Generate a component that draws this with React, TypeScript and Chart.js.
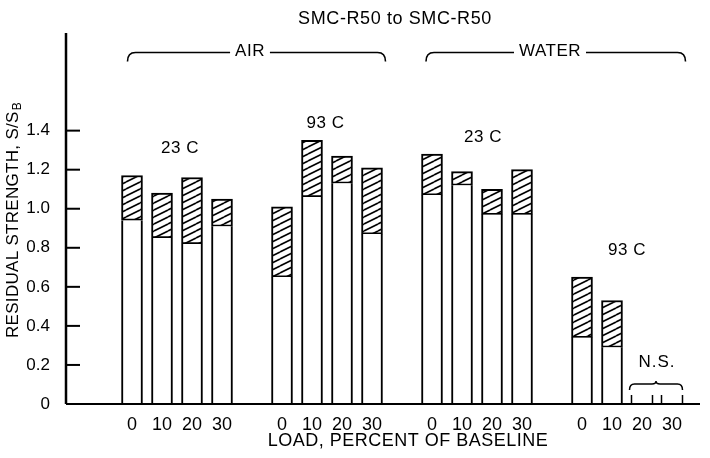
import React, { useEffect, useRef } from "react";
import { Chart, registerables } from "chart.js";

Chart.register(...registerables);

const chartTitle = "SMC-R50 to SMC-R50";
const xAxisTitle = "LOAD, PERCENT OF BASELINE";
const yAxisTitle = "RESIDUAL STRENGTH, S/S";
const yAxisTitleSub = "B";
const environments = ["AIR", "WATER"];
const groupTemps = ["23 C", "93 C", "23 C", "93 C"];
const loadLabels = ["0", "10", "20", "30"];
const yTickValues = [0, 0.2, 0.4, 0.6, 0.8, 1.0, 1.2, 1.4];
const notSignificantLabel = "N.S.";

// lower (open) part of bar and top of hatched part
const air23Lower = [0.94, 0.85, 0.82, 0.91];
const air23Upper = [1.17, 1.08, 1.16, 1.05];
const air93Lower = [0.65, 1.06, 1.13, 0.87];
const air93Upper = [1.01, 1.35, 1.27, 1.21];
const water23Lower = [1.07, 1.12, 0.97, 0.97];
const water23Upper = [1.28, 1.19, 1.1, 1.2];
const water93Lower: (number | null)[] = [0.34, 0.29, null, null];
const water93Upper: (number | null)[] = [0.65, 0.53, null, null];

const lowerByGroup = [air23Lower, air93Lower, water23Lower, water93Lower];
const upperByGroup = [air23Upper, air93Upper, water23Upper, water93Upper];

const SLOTS = 5; // 4 loads + one spacer per group
const FONT = "'Liberation Sans', Arial, sans-serif";
const BAR_W = 21;

function makeHatch(): CanvasPattern | string {
  const c = document.createElement("canvas");
  c.width = 14;
  c.height = 7;
  const g = c.getContext("2d");
  if (!g) return "#fff";
  g.fillStyle = "#fff";
  g.fillRect(0, 0, 14, 7);
  g.strokeStyle = "#000";
  g.lineWidth = 1.6;
  for (let k = -1; k <= 1; k++) {
    g.beginPath();
    g.moveTo(0, 7 * k + 7);
    g.lineTo(14, 7 * k);
    g.stroke();
  }
  return g.createPattern(c, "repeat") || "#fff";
}

function setSpacing(ctx: any, v: string) {
  if ("letterSpacing" in ctx) ctx.letterSpacing = v;
}

const annotations = {
  id: "annotations",
  afterDraw(chart: any) {
    const { ctx, chartArea: a, scales } = chart;
    const x = scales.x;
    const y = scales.y;
    ctx.save();
    ctx.strokeStyle = "#000";
    ctx.fillStyle = "#000";
    ctx.lineCap = "butt";

    // axes
    ctx.lineWidth = 2.5;
    ctx.beginPath();
    ctx.moveTo(a.left, a.top);
    ctx.lineTo(a.left, a.bottom);
    ctx.stroke();
    ctx.lineWidth = 2;
    ctx.beginPath();
    ctx.moveTo(a.left, a.bottom);
    ctx.lineTo(a.right, a.bottom);
    ctx.stroke();

    // y tick marks (inside)
    yTickValues.forEach((v) => {
      if (v === 0) return;
      const py = y.getPixelForValue(v);
      ctx.beginPath();
      ctx.moveTo(a.left, py);
      ctx.lineTo(a.left + 14, py);
      ctx.stroke();
    });

    // title
    ctx.textAlign = "center";
    ctx.textBaseline = "alphabetic";
    ctx.font = `18px ${FONT}`;
    setSpacing(ctx, "0.6px");
    ctx.fillText(chartTitle, 395, 24);

    // x axis title
    ctx.font = `18px ${FONT}`;
    setSpacing(ctx, "0.5px");
    ctx.fillText(xAxisTitle, x.getPixelForValue(9.2), 446);

    // y axis title (rotated)
    ctx.save();
    ctx.translate(18, 220);
    ctx.rotate(-Math.PI / 2);
    ctx.font = `17px ${FONT}`;
    setSpacing(ctx, "0.3px");
    const mainW = ctx.measureText(yAxisTitle).width;
    ctx.font = `12px ${FONT}`;
    const subW = ctx.measureText(yAxisTitleSub).width;
    const total = mainW + subW + 1;
    ctx.textAlign = "left";
    ctx.font = `17px ${FONT}`;
    ctx.fillText(yAxisTitle, -total / 2, 0);
    ctx.font = `12px ${FONT}`;
    ctx.fillText(yAxisTitleSub, -total / 2 + mainW + 1, 3);
    ctx.restore();

    // environment braces
    const braceY = y.getPixelForValue(1.8);
    const braceSpans = [
      [-0.15, 8.45],
      [9.8, 18.45],
    ];
    ctx.font = `17px ${FONT}`;
    setSpacing(ctx, "0.5px");
    ctx.textAlign = "center";
    ctx.textBaseline = "middle";
    ctx.lineWidth = 1.6;
    environments.forEach((env, i) => {
      const x1 = x.getPixelForValue(braceSpans[i][0]);
      const x2 = x.getPixelForValue(braceSpans[i][1]);
      const cx = x.getPixelForValue(i * 2 * SLOTS + 4) - 2;
      const w = ctx.measureText(env).width;
      const r = 8;
      const drop = 9;
      ctx.beginPath();
      ctx.moveTo(x1, braceY + drop);
      ctx.quadraticCurveTo(x1, braceY, x1 + r, braceY);
      ctx.lineTo(cx - w / 2 - 5, braceY);
      ctx.moveTo(cx + w / 2 + 5, braceY);
      ctx.lineTo(x2 - r, braceY);
      ctx.quadraticCurveTo(x2, braceY, x2, braceY + drop);
      ctx.stroke();
      ctx.fillText(env, cx, braceY - 1);
    });

    // temperature labels
    const tempY = [1.31, 1.44, 1.365, 0.785];
    const tempDx = [0.1, -0.05, 0.2, 0];
    ctx.font = `17px ${FONT}`;
    groupTemps.forEach((t, g) => {
      const px = x.getPixelForValue(g * SLOTS + 1.5 + tempDx[g]);
      ctx.fillText(t, px, y.getPixelForValue(tempY[g]));
    });

    // N.S. brace for missing bars
    const missing: number[] = [];
    upperByGroup.forEach((arr, g) =>
      arr.forEach((v, j) => {
        if (v === null) missing.push(g * SLOTS + j);
      })
    );
    if (missing.length) {
      ctx.lineWidth = 1.5;
      const edges: number[] = [];
      missing.forEach((i) => {
        const c = x.getPixelForValue(i);
        edges.push(c - BAR_W / 2, c + BAR_W / 2);
      });
      edges.forEach((ex) => {
        ctx.beginPath();
        ctx.moveTo(ex, a.bottom);
        ctx.lineTo(ex, a.bottom - 9);
        ctx.stroke();
      });
      const x1 = edges[0] - 2;
      const x2 = edges[edges.length - 1];
      const cx = (x1 + x2) / 2;
      const by = a.bottom - 20;
      const r = 5;
      ctx.beginPath();
      ctx.moveTo(x1, by + 6);
      ctx.quadraticCurveTo(x1, by, x1 + r, by);
      ctx.lineTo(cx - 4, by);
      ctx.quadraticCurveTo(cx, by, cx, by - 3);
      ctx.quadraticCurveTo(cx, by, cx + 4, by);
      ctx.lineTo(x2 - r, by);
      ctx.quadraticCurveTo(x2, by, x2, by + 6);
      ctx.stroke();
      ctx.font = `17px ${FONT}`;
      setSpacing(ctx, "1px");
      ctx.fillText(notSignificantLabel, cx + 1, a.bottom - 42);
    }

    setSpacing(ctx, "0px");
    ctx.restore();
  },
};

export default function App() {
  const ref = useRef<HTMLCanvasElement | null>(null);

  useEffect(() => {
    const canvas = ref.current;
    if (!canvas) return;
    const hatch = makeHatch();

    const lowerData: any[] = [];
    const hatchData: any[] = [];
    lowerByGroup.forEach((arr, g) =>
      arr.forEach((v, j) => {
        const up = upperByGroup[g][j];
        if (v === null || up === null) return;
        lowerData.push({ x: g * SLOTS + j, y: v });
        hatchData.push({ x: g * SLOTS + j, y: [v, up] });
      })
    );

    const chart = new Chart(canvas, {
      type: "bar",
      data: {
        datasets: [
          {
            data: lowerData,
            backgroundColor: "#fff",
            borderColor: "#000",
            borderWidth: { top: 0, left: 2, right: 2, bottom: 0 } as any,
            borderSkipped: false,
            barThickness: BAR_W,
            grouped: false,
          } as any,
          {
            data: hatchData,
            backgroundColor: hatch as any,
            borderColor: "#000",
            borderWidth: 2,
            borderSkipped: false,
            barThickness: BAR_W,
            grouped: false,
          } as any,
        ],
      },
      options: {
        animation: false,
        responsive: false,
        devicePixelRatio: 1,
        layout: { padding: { top: 33, right: 10, left: 0, bottom: 0 } },
        plugins: {
          legend: { display: false },
          tooltip: { enabled: false },
          title: { display: false },
        },
        scales: {
          x: {
            type: "linear",
            offset: false,
            min: -2.2,
            max: 18.9333,
            grid: { display: false, drawTicks: false, offset: false },
            border: { display: false },
            afterFit: (s: any) => {
              s.height = 54;
            },
            afterBuildTicks: (s: any) => {
              s.ticks = groupTemps.flatMap((_, g) =>
                loadLabels.map((_, j) => ({ value: g * SLOTS + j }))
              );
            },
            ticks: {
              autoSkip: false,
              maxRotation: 0,
              color: "#000",
              padding: 10,
              font: { family: FONT, size: 18 },
              callback: (v: any) => {
                const i = Math.round(Number(v));
                const j = i % SLOTS;
                return j < loadLabels.length ? loadLabels[j] : "";
              },
            },
          },
          y: {
            type: "linear",
            min: 0,
            max: 1.9,
            grid: { display: false, drawTicks: false },
            border: { display: false },
            afterFit: (s: any) => {
              s.width = 66;
            },
            afterBuildTicks: (s: any) => {
              s.ticks = yTickValues.map((v) => ({ value: v }));
            },
            ticks: {
              color: "#000",
              padding: 16,
              font: { family: FONT, size: 17 },
              callback: (v: any) => (Number(v) === 0 ? "0" : Number(v).toFixed(1)),
            },
          },
        },
      } as any,
      plugins: [annotations],
    });

    return () => chart.destroy();
  }, []);

  return (
    <div
      style={{
        position: "fixed",
        left: 0,
        top: 0,
        width: 710,
        height: 458,
        background: "#fff",
      }}
    >
      <canvas ref={ref} width={710} height={458} style={{ display: "block" }} />
    </div>
  );
}
